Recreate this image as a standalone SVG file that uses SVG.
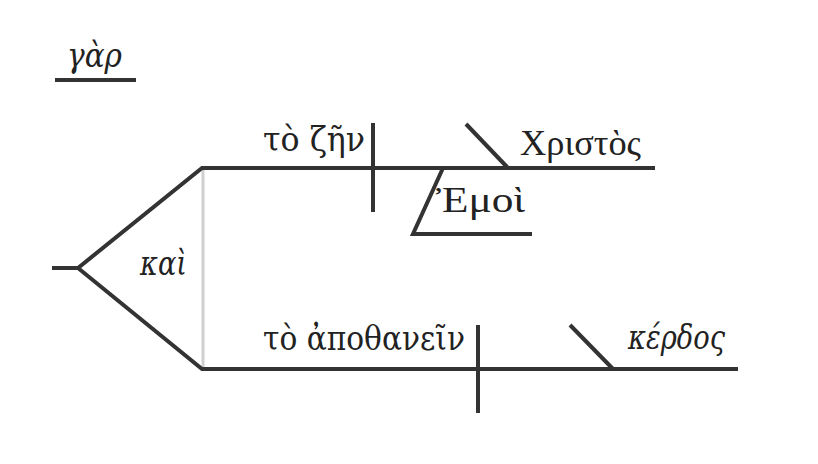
<svg xmlns="http://www.w3.org/2000/svg" width="818" height="464" viewBox="0 0 818 464">
<style>
.ln{stroke:#333;stroke-width:4;fill:none;stroke-linecap:butt;stroke-linejoin:miter}
.gr{stroke:#cfcfcf;stroke-width:3;fill:none}
.tx{font-family:"DejaVu Serif","Liberation Serif",serif;font-size:34px;fill:#222}
.it{font-style:italic}
.up{font-family:"Liberation Serif","DejaVu Serif",serif;font-size:35px;fill:#222}
</style>
<rect width="818" height="464" fill="#fff"/>
<g id="connectors">
<line class="ln" x1="55" y1="80" x2="136" y2="80"/>
<line class="gr" x1="203" y1="168" x2="203" y2="369"/>
<polyline class="ln" points="52,268 78,268 202,168 655,168"/>
<polyline class="ln" points="78,268 202,369 738,369"/>
<line class="ln" x1="373" y1="123" x2="373" y2="212"/>
<line class="ln" x1="466" y1="124" x2="508" y2="168"/>
<polyline class="ln" points="443,168 413,234 532,234"/>
<line class="ln" x1="478" y1="325" x2="478" y2="413"/>
<line class="ln" x1="570" y1="325" x2="613" y2="369"/>
</g>
<g id="gar"><text class="tx it" x="67" y="67" textLength="55" lengthAdjust="spacingAndGlyphs">γὰρ</text></g>
<g id="kai"><text class="tx it" x="140" y="275" textLength="47" lengthAdjust="spacingAndGlyphs">καὶ</text></g>
<g id="to-zen"><text class="tx" x="263" y="151" textLength="102" lengthAdjust="spacingAndGlyphs">τὸ ζῆν</text></g>
<g id="christos"><text class="up" x="520" y="155" textLength="121" lengthAdjust="spacingAndGlyphs">Χριστὸς</text></g>
<g id="emoi"><text class="up" x="436" y="212" textLength="89" lengthAdjust="spacingAndGlyphs">Ἐμοὶ</text></g>
<g id="to-apothanein"><text class="tx" x="263" y="350" textLength="202" lengthAdjust="spacingAndGlyphs">τὸ ἀποθανεῖν</text></g>
<g id="kerdos"><text class="tx it" x="628" y="349" textLength="97" lengthAdjust="spacingAndGlyphs">κέρδος</text></g>
</svg>
